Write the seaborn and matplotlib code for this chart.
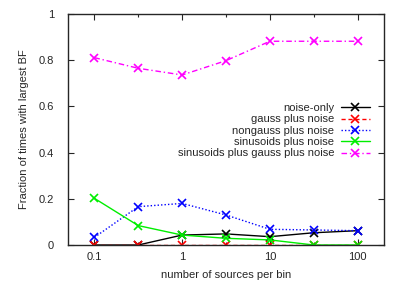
import numpy as np
import pandas as pd
import matplotlib
matplotlib.use('Agg')
import matplotlib.pyplot as plt
import matplotlib.ticker as mticker
import seaborn as sns

# Data
sources = [0.1, 0.316, 1, 3.16, 10, 31.6, 100]
noise_only = [0.0, 0.0, 0.043, 0.048, 0.036, 0.053, 0.062]
gauss = [0.0, 0.0, 0.0, 0.0, 0.0, 0.0, 0.0]
nongauss = [0.033, 0.166, 0.180, 0.130, 0.068, 0.065, 0.062]
sinusoids = [0.202, 0.084, 0.043, 0.029, 0.022, 0.0, 0.0]
sin_gauss = [0.811, 0.765, 0.736, 0.798, 0.882, 0.882, 0.882]

series = [
    ('noise-only', noise_only, 'black', '-'),
    ('gauss plus noise', gauss, 'red', (0, (3, 2))),
    ('nongauss plus noise', nongauss, 'blue', (0, (1, 1.5))),
    ('sinusoids plus noise', sinusoids, '#00ee00', '-'),
    ('sinusoids plus gauss plus noise', sin_gauss, 'magenta', (0, (4, 2, 1, 2))),
]

sns.set_style('ticks')
plt.rcParams['font.family'] = ['Liberation Sans', 'DejaVu Sans']
plt.rcParams['font.size'] = 8

fig = plt.figure(figsize=(4.01, 2.81), dpi=100)
ax = fig.add_axes([68 / 401, 1 - 245 / 281, 316 / 401, 231 / 281])

for name, vals, color, ls in series:
    df = pd.DataFrame({'x': sources, 'y': vals})
    sns.lineplot(data=df, x='x', y='y', ax=ax, color=color, linestyle=ls,
                 marker='x', markersize=5.5, markeredgewidth=1.2,
                 markeredgecolor=color, linewidth=1, label=name)

ax.set_xscale('log')
ax.set_xlim(0.05, 200)
ax.set_ylim(0, 1)
ax.set_xticks([0.1, 1, 10, 100])
ax.set_xticklabels(['0.1', '1', '10', '100'])
ax.set_yticks([0, 0.2, 0.4, 0.6, 0.8, 1])
ax.set_yticklabels(['0', '0.2', '0.4', '0.6', '0.8', '1'])
ax.xaxis.set_minor_locator(mticker.LogLocator(subs=[3.16]))
ax.xaxis.set_minor_formatter(mticker.NullFormatter())
ax.tick_params(which='both', direction='in', top=True, right=True, width=0.8)
ax.tick_params(which='major', length=4, labelsize=8)
ax.tick_params(axis='y', pad=10)
ax.tick_params(axis='x', pad=5)
ax.tick_params(which='minor', length=2)
for sp in ax.spines.values():
    sp.set_linewidth(1)
    sp.set_visible(True)

ax.set_xlabel('number of sources per bin', fontsize=8, labelpad=6)
ax.set_ylabel('Fraction of times with largest BF', fontsize=8, labelpad=7)

leg = ax.legend(loc='upper right', bbox_to_anchor=(0.98, 0.648), frameon=False,
                markerfirst=False, fontsize=8, handlelength=2.6,
                labelspacing=0.12, handletextpad=0.6, borderpad=0.2)

fig.savefig('out.png', dpi=100)
